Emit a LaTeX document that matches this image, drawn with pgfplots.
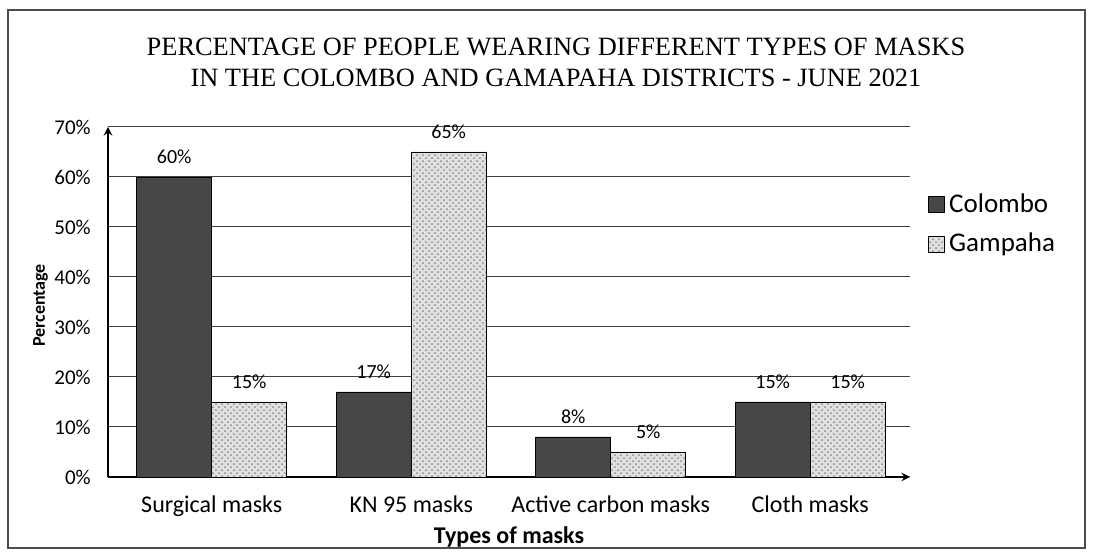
\documentclass[border=0pt]{standalone}
\usepackage{fontspec}
\setmainfont{Carlito}
\newfontfamily\titlefont{Liberation Serif}
\usepackage{pgfplots}
\pgfplotsset{compat=1.18}
\usetikzlibrary{patterns}
\begin{document}
\begin{tikzpicture}
\path (-54pt,-36.5pt) rectangle (492.5pt,238.5pt);
\draw[black!70, line width=0.8pt] (-50pt,-35.5pt) rectangle (488.5pt,233.5pt);
\begin{axis}[
  at={(0,0)}, anchor=south west,
  scale only axis, width=401pt, height=175pt,
  ybar=0pt, bar width=37.5pt,
  xmin=-0.52, xmax=3.5, ymin=0, ymax=70,
  xtick={0,1,2,3},
  xticklabels={Surgical masks, KN 95 masks, Active carbon masks, Cloth masks},
  xtick style={draw=none},
  ytick={0,10,...,70},
  yticklabel={\pgfmathprintnumber{\tick}\%},
  /pgf/number format/assume math mode=true,
  ticklabel style={font=\fontsize{10.5}{12}\selectfont},
  yticklabel style={xshift=-3pt},
  xticklabel style={font=\fontsize{12}{14}\selectfont, yshift=-4pt},
  ymajorgrids, grid style={black!75, line width=0.5pt},
  axis lines=left, axis line style={line width=0.9pt},
  ytick style={draw=none},
  xlabel={\textbf{Types of masks}},
  xlabel style={font=\fontsize{12}{14}\selectfont, yshift=2pt},
  ylabel={\textbf{Percentage}},
  ylabel style={font=\fontsize{9}{11}\selectfont, at={(axis description cs:-0.066,0.49)}},
  nodes near coords={\pgfmathprintnumber{\pgfplotspointmeta}\%},
  nodes near coords style={font=\fontsize{10}{12}\selectfont, yshift=3pt},
  legend style={draw=none, at={(407pt,146pt)}, anchor=north west,
    font=\fontsize{13.5}{16}\selectfont, row sep=5pt, fill=none},
  legend cell align=left,
  legend image code/.code={\draw[#1] (0pt,-4pt) rectangle (8pt,4pt);},
]
\addplot[draw=black, fill=black!72] coordinates {(0,60) (1,17) (2,8) (3,15)};
\addplot[draw=black, fill=black!12, postaction={pattern=crosshatch dots, pattern color=black!45}] coordinates {(0,15) (1,65) (2,5) (3,15)};
\legend{Colombo, Gampaha}
\end{axis}
\node[font=\titlefont\fontsize{13.2}{15.5}\selectfont, align=center] at (224pt,207.5pt)
 {PERCENTAGE OF PEOPLE WEARING DIFFERENT TYPES OF MASKS\\IN THE COLOMBO AND GAMAPAHA DISTRICTS - JUNE 2021};
\end{tikzpicture}
\end{document}
